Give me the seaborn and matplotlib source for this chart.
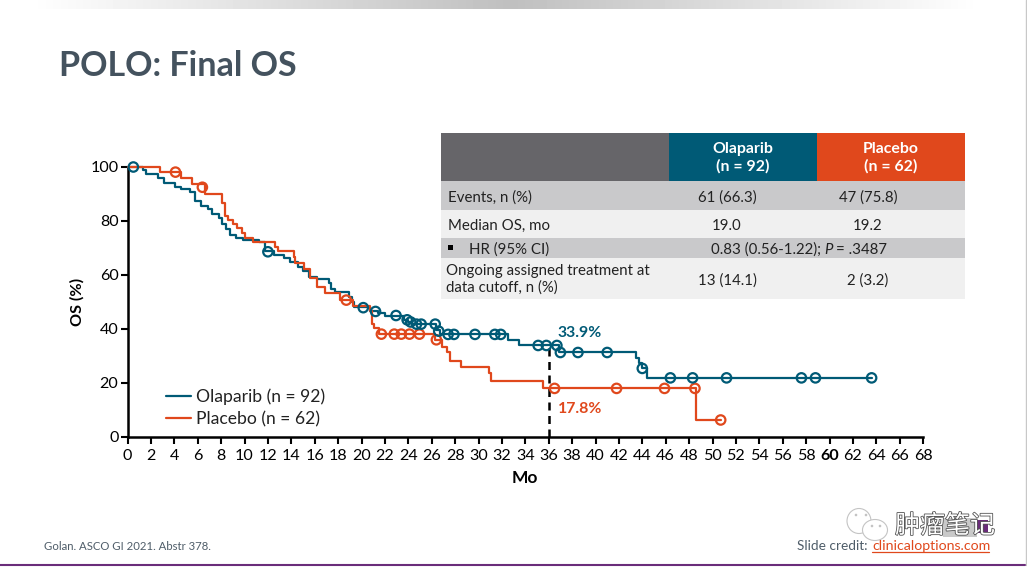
import numpy as np
import pandas as pd
import matplotlib
matplotlib.use("Agg")
import matplotlib.pyplot as plt
from matplotlib.patches import Rectangle, Ellipse
import matplotlib.patheffects as pe
import seaborn as sns

TEAL = "#005a76"
ORANGE = "#e0481c"

ola_t = [0, 1.3, 1.6, 2.6, 3.1, 4.1, 4.6, 5.3, 5.8, 6.3, 6.9, 7.2, 7.8, 8.05, 8.4, 8.8, 9.3, 9.9,
         11.2, 11.75, 12.5, 13.4, 13.9, 14.6, 15.0, 15.5, 16.2, 17.2, 17.4, 17.7, 18.9, 19.2, 19.4,
         20.7, 21.4, 22.0, 23.6, 24.0, 24.3, 26.4, 26.7, 32.55, 33.5, 36.9, 43.5, 43.75, 44.0, 44.4, 63.6]
ola_s = [100, 98.9, 97.3, 95.8, 94, 92.5, 91.7, 90.9, 87.4, 85.7, 84.3, 82.6, 81, 78.9, 76.9, 75, 73.8, 73.1,
         72.3, 69.0, 67.3, 66.2, 65, 63, 61.6, 59.4, 58.4, 56.9, 55, 53.6, 52, 50, 48.0,
         46.5, 45.9, 45, 43.4, 42.6, 41.8, 39.5, 38.0, 36.0, 33.9, 31.3, 29.1, 27.3, 25.4, 21.9, 21.9]
ola_cens_t = [0.5, 12.0, 20.15, 21.2, 22.95, 23.9, 24.2, 24.7, 25.1, 26.3, 26.6, 27.4, 27.9, 29.7, 31.4, 31.9,
              35.1, 35.8, 36.7, 37.0, 38.5, 41.0, 44.0, 46.4, 48.3, 51.2, 57.6, 58.8, 63.6]
ola_cens_s = [100, 68.6, 47.9, 46.5, 45, 43.4, 42.6, 41.8, 41.8, 41.8, 39.2, 38, 38, 38, 38, 38,
              33.9, 33.9, 33.9, 31.3, 31.3, 31.3, 25.4, 21.9, 21.9, 21.9, 21.9, 21.9, 21.9]

pla_t = [0, 2.8, 4.6, 5.5, 6.6, 8.1, 8.3, 8.6, 9.05, 9.4, 9.75, 10.0, 10.75, 12.6, 12.9, 14.2, 14.3,
         15.1, 15.6, 16.2, 16.9, 18.2, 19.3, 20.7, 20.9, 21.1, 21.5, 26.3, 26.9, 27.3, 27.6, 28.5,
         30.9, 31.1, 35.5, 48.6, 50.7]
pla_s = [100, 98.1, 95.8, 93.7, 90.1, 86.5, 82, 80.4, 78.9, 77.3, 75.7, 73.6, 72.3, 70.5, 69, 66.8, 64.6,
         62.1, 58.8, 55.7, 53.5, 50.7, 48.5, 46.7, 41.7, 40.2, 38.1, 36, 33.3, 31.3, 28, 26,
         23.6, 20.9, 18, 6.3, 6.3]
pla_cens_t = [4.1, 6.4, 18.7, 21.7, 22.8, 23.4, 24.1, 24.95, 26.4, 36.5, 41.8, 45.9, 48.5, 50.7]
pla_cens_s = [98.1, 92.5, 50.7, 38.1, 38.1, 38.1, 38.1, 38.1, 36, 18, 18, 18, 18, 6.3]

x_ticks = list(range(0, 70, 2))
y_ticks = [0, 20, 40, 60, 80, 100]
ARMS = ["Olaparib (n = 92)", "Placebo (n = 62)"]
PALETTE = dict(zip(ARMS, [TEAL, ORANGE]))

curves = pd.concat([
    pd.DataFrame({"Mo": ola_t, "OS": ola_s, "arm": ARMS[0]}),
    pd.DataFrame({"Mo": pla_t, "OS": pla_s, "arm": ARMS[1]}),
])
censors = pd.concat([
    pd.DataFrame({"Mo": pla_cens_t, "OS": pla_cens_s, "arm": ARMS[1]}),
    pd.DataFrame({"Mo": ola_cens_t, "OS": ola_cens_s, "arm": ARMS[0]}),
])

FONT = "Lato"
sns.set_theme(style="white")
plt.rcParams["font.family"] = [FONT, "Noto Sans CJK SC", "DejaVu Sans"]

W, H = 1027, 571
fig = plt.figure(figsize=(W / 100, H / 100), dpi=100, facecolor="white")

# pixel-space layer for slide furniture
bg = fig.add_axes([0, 0, 1, 1], zorder=0)
bg.set_xlim(0, W)
bg.set_ylim(H, 0)
bg.axis("off")

grad = np.interp(np.arange(W), [30, 510, 980, W], [1.0, 0.75, 1.0, 1.0])
bg.imshow(grad[None, :], extent=(0, W, 9, 0), cmap="gray", vmin=0, vmax=1, aspect="auto", zorder=1)
bg.set_xlim(0, W)
bg.set_ylim(H, 0)
bg.plot([1025.5, 1025.5], [0, 565], color="#c8c8c8", lw=1)
bg.plot([0, 1025], [564.5, 564.5], color="#6a2c7a", lw=1.5)

TITLE = "#44525e"
bg.text(59, 66, "POLO: Final OS", fontsize=24.5, fontweight="bold", color=TITLE, va="center", ha="left")

# summary table
bg.add_patch(Rectangle((441, 133), 228, 48, color="#666569", lw=0))
bg.add_patch(Rectangle((669, 133), 148, 48, color=TEAL, lw=0))
bg.add_patch(Rectangle((817, 133), 148, 48, color=ORANGE, lw=0))
bg.add_patch(Rectangle((441, 181), 524, 29, color="#c9c9cb", lw=0))
bg.add_patch(Rectangle((441, 210), 524, 28, color="#f0f0f0", lw=0))
bg.add_patch(Rectangle((441, 238), 524, 20, color="#c9c9cb", lw=0))
bg.add_patch(Rectangle((441, 258), 524, 41, color="#f0f0f0", lw=0))

tf = dict(fontsize=10.8, color="#222222", va="center")
for x, label in [(743, "Olaparib\n(n = 92)"), (891, "Placebo\n(n = 62)")]:
    bg.text(x, 157.5, label, fontsize=11.4, fontweight="bold", color="white", ha="center", va="center", linespacing=1.25)
bg.text(448, 197.5, "Events, n (%)", **tf)
bg.text(727, 197.5, "61 (66.3)", ha="center", **tf)
bg.text(868, 197.5, "47 (75.8)", ha="center", **tf)
bg.text(448, 225.5, "Median OS, mo", **tf)
bg.text(727, 225.5, "19.0", ha="center", **tf)
bg.text(868, 225.5, "19.2", ha="center", **tf)
bg.add_patch(Rectangle((447.5, 245), 5, 5, color="black", lw=0))
bg.text(469, 249.5, "HR (95% CI)", **tf)
bg.text(711, 249.5, "0.83 (0.56-1.22);", **tf)
bg.text(824, 249.5, "P", fontstyle="italic", **tf)
bg.text(836, 249.5, "= .3487", **tf)
bg.text(446, 279.5, "Ongoing assigned treatment at\ndata cutoff, n (%)", linespacing=1.25, **tf)
bg.text(727, 280.5, "13 (14.1)", ha="center", **tf)
bg.text(868, 280.5, "2 (3.2)", ha="center", **tf)

# footer
bg.text(44, 546, "Golan. ASCO GI 2021. Abstr 378.", fontsize=8.2, color="#4f5d69", va="center")
bg.text(797, 545.5, "Slide credit:", fontsize=9.8, color="#4f5d69", va="center")
bg.text(872, 545.5, "clinicaloptions.com", fontsize=10.2, color=ORANGE, va="center")
bg.plot([872, 989], [552, 552], color=ORANGE, lw=0.9)

# watermark
bg.add_patch(Rectangle((943, 518), 34, 19, color="#c9c9c9", lw=0))
bg.add_patch(Rectangle((976, 520), 12, 13, color="#6a2c7a", lw=0))
bg.add_patch(Ellipse((859, 521), 24, 25, fc="white", ec="#c4c4c4", lw=0.8))
bg.add_patch(Ellipse((875, 530), 25, 21, fc="white", ec="#c4c4c4", lw=0.8))
for x, y in [(856, 515), (866, 515), (872, 526), (880, 526)]:
    bg.add_patch(Ellipse((x, y), 2.6, 2.6, fc="#c4c4c4", lw=0))
bg.text(895, 526, "肿瘤笔记", fontsize=18, family="Noto Sans CJK SC", color="white", va="center", ha="left",
        path_effects=[pe.withStroke(linewidth=1.2, foreground="#555555")])

# KM chart
ax = fig.add_axes([127.5 / W, 1 - 437 / H, 11.7 * 68 / W, 270 / H], zorder=2)
ax.patch.set_alpha(0)
sns.lineplot(data=curves, x="Mo", y="OS", hue="arm", palette=PALETTE, hue_order=ARMS,
             drawstyle="steps-post", estimator=None, sort=False, lw=1.6, ax=ax, clip_on=False, zorder=3)
sns.scatterplot(data=censors, x="Mo", y="OS", hue="arm", palette=PALETTE, legend=False,
                ax=ax, s=46, marker="o", facecolors="none", linewidth=1.6, clip_on=False, zorder=4)
for coll in ax.collections:
    ec = coll.get_facecolors()
    coll.set_edgecolors(ec)
    coll.set_facecolors("none")

ax.plot([36, 36], [0, 33.9], color="black", lw=1.8, dashes=(3.2, 2.2), zorder=2)
ax.text(36.75, 38.4, "33.9%", color=TEAL, fontsize=11.4, fontweight="bold", va="center")
ax.text(36.75, 10.3, "17.8%", color=ORANGE, fontsize=11.4, fontweight="bold", va="center")

ax.set_xlim(0, 68)
ax.set_ylim(0, 100)
ax.set_xticks(x_ticks)
ax.set_yticks(y_ticks)
ax.set_xticklabels([str(t) for t in x_ticks])
ax.tick_params(axis="both", which="major", direction="out", length=5, width=1.5, labelsize=11.6,
               bottom=True, left=True, colors="black")
ax.tick_params(axis="x", pad=4)
ax.tick_params(axis="y", pad=1.5)
for lab in ax.get_xticklabels():
    if lab.get_text() == "60":
        lab.set_fontweight("bold")
sns.despine(ax=ax)
for s in ("left", "bottom"):
    ax.spines[s].set_linewidth(1.8)
    ax.spines[s].set_color("black")
ax.set_xlabel("Mo", fontsize=12.5, fontweight="bold", color="black", labelpad=5)
ax.set_ylabel("OS (%)", fontsize=11.6, fontweight="bold", color="black", labelpad=3.8)

leg = ax.legend(frameon=False, loc="lower left", bbox_to_anchor=(0.0484, 0.037), fontsize=12.6, handlelength=1.43,
                handletextpad=0.29, labelspacing=0.32, borderpad=0, borderaxespad=0)
for t in leg.get_texts():
    t.set_color("#222222")

fig.savefig("out.png", dpi=100)
